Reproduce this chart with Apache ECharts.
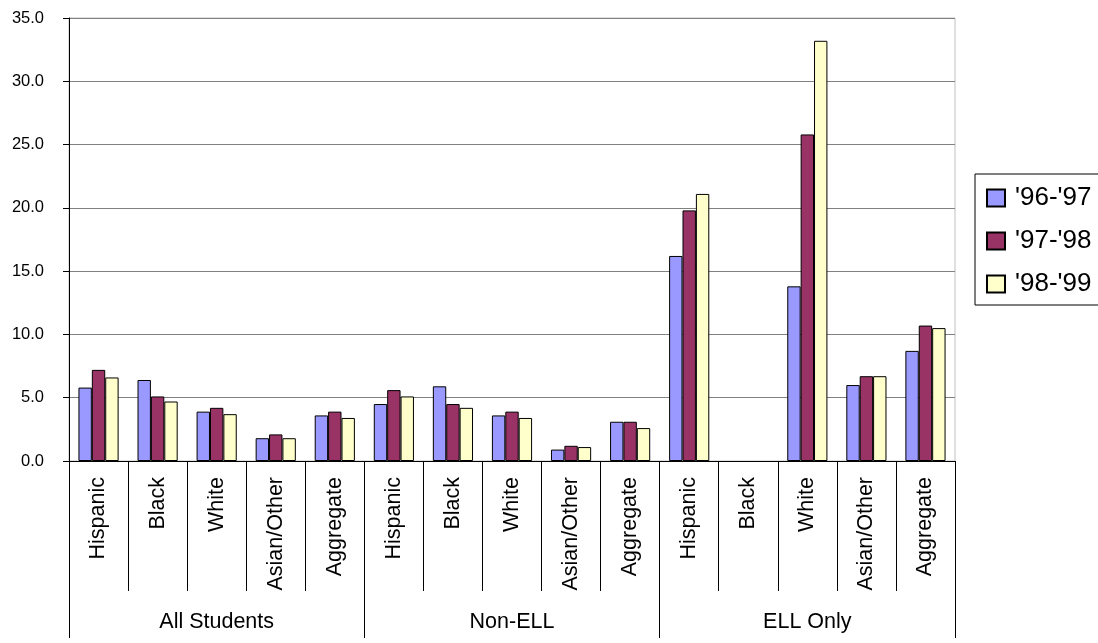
<!DOCTYPE html>
<html>
<head>
<meta charset="utf-8">
<script src="https://cdn.jsdelivr.net/npm/echarts@6/dist/echarts.min.js"></script>
<style>
html,body{margin:0;padding:0;background:#fff;}
#chart{width:1098px;height:643px;}
</style>
</head>
<body>
<div id="chart"></div>
<script>
const categories = ['Hispanic','Black','White','Asian/Other','Aggregate',
                    'Hispanic','Black','White','Asian/Other','Aggregate',
                    'Hispanic','Black','White','Asian/Other','Aggregate'];
const groups = ['All Students','Non-ELL','ELL Only'];
const seriesNames = ["'96-'97","'97-'98","'98-'99"];
const s9697 = [5.8, 6.4, 3.9, 1.8, 3.6,  4.5, 5.9, 3.6, 0.9, 3.1,  16.2, null, 13.8, 6.0, 8.7];
const s9798 = [7.2, 5.1, 4.2, 2.1, 3.9,  5.6, 4.5, 3.9, 1.2, 3.1,  19.8, null, 25.8, 6.7, 10.7];
const s9899 = [6.6, 4.7, 3.7, 1.8, 3.4,  5.1, 4.2, 3.4, 1.1, 2.6,  21.1, null, 33.2, 6.7, 10.5];
const yTicks = [0, 5, 10, 15, 20, 25, 30, 35];
const colors = ['#9999FF', '#993366', '#FFFFCC'];

const font = 'Liberation Sans, Arial, sans-serif';
const chart = echarts.init(document.getElementById('chart'), null, {renderer: 'canvas'});
const values = [s9697, s9798, s9899];

chart.setOption({
  backgroundColor: '#ffffff',
  animation: false,
  textStyle: {fontFamily: font},
  grid: {left: 69, right: 143, top: 18, bottom: 182, containLabel: false,
         show: true, borderColor: '#c0c0c0', borderWidth: 1},
  legend: {
    orient: 'vertical', left: 975, top: 174,
    itemWidth: 18, itemHeight: 17, itemGap: 17,
    padding: [11, 10, 8, 11],
    borderColor: '#000', borderWidth: 1,
    icon: 'rect',
    textStyle: {fontSize: 26, color: '#000', fontFamily: font, padding: [0, 0, 0, 5]},
    data: seriesNames
  },
  xAxis: [
    {
      type: 'category', data: categories, position: 'bottom',
      axisLine: {show: true, lineStyle: {color: '#000', width: 1}},
      axisTick: {show: true, interval: 0, length: 130, lineStyle: {color: '#000', width: 1}},
      axisLabel: {interval: 0, rotate: 90, margin: 16, fontSize: 21.5, color: '#000', fontFamily: font},
      splitLine: {show: false}
    },
    {
      type: 'category', data: groups, position: 'bottom',
      axisLine: {show: false},
      axisTick: {show: true, interval: 0, length: 177, lineStyle: {color: '#000', width: 1}},
      axisLabel: {interval: 0, margin: 150, fontSize: 21.5, color: '#000', fontFamily: font},
      splitLine: {show: false}
    }
  ],
  yAxis: {
    type: 'value', min: yTicks[0], max: yTicks[yTicks.length - 1], interval: 5,
    axisLine: {show: true, lineStyle: {color: '#000', width: 1}},
    axisTick: {show: true, length: 6, lineStyle: {color: '#000'}},
    axisLabel: {margin: 25, fontSize: 16.5, color: '#000', fontFamily: font,
                formatter: v => v.toFixed(1)},
    splitLine: {show: true, lineStyle: {color: '#808080', width: 1}}
  },
  series: seriesNames.map((name, i) => ({
    name: name, type: 'bar', xAxisIndex: 0,
    data: values[i],
    barGap: '0%', barCategoryGap: '32%',
    itemStyle: {color: colors[i], borderColor: '#000', borderWidth: 1}
  }))
});
</script>
</body>
</html>
